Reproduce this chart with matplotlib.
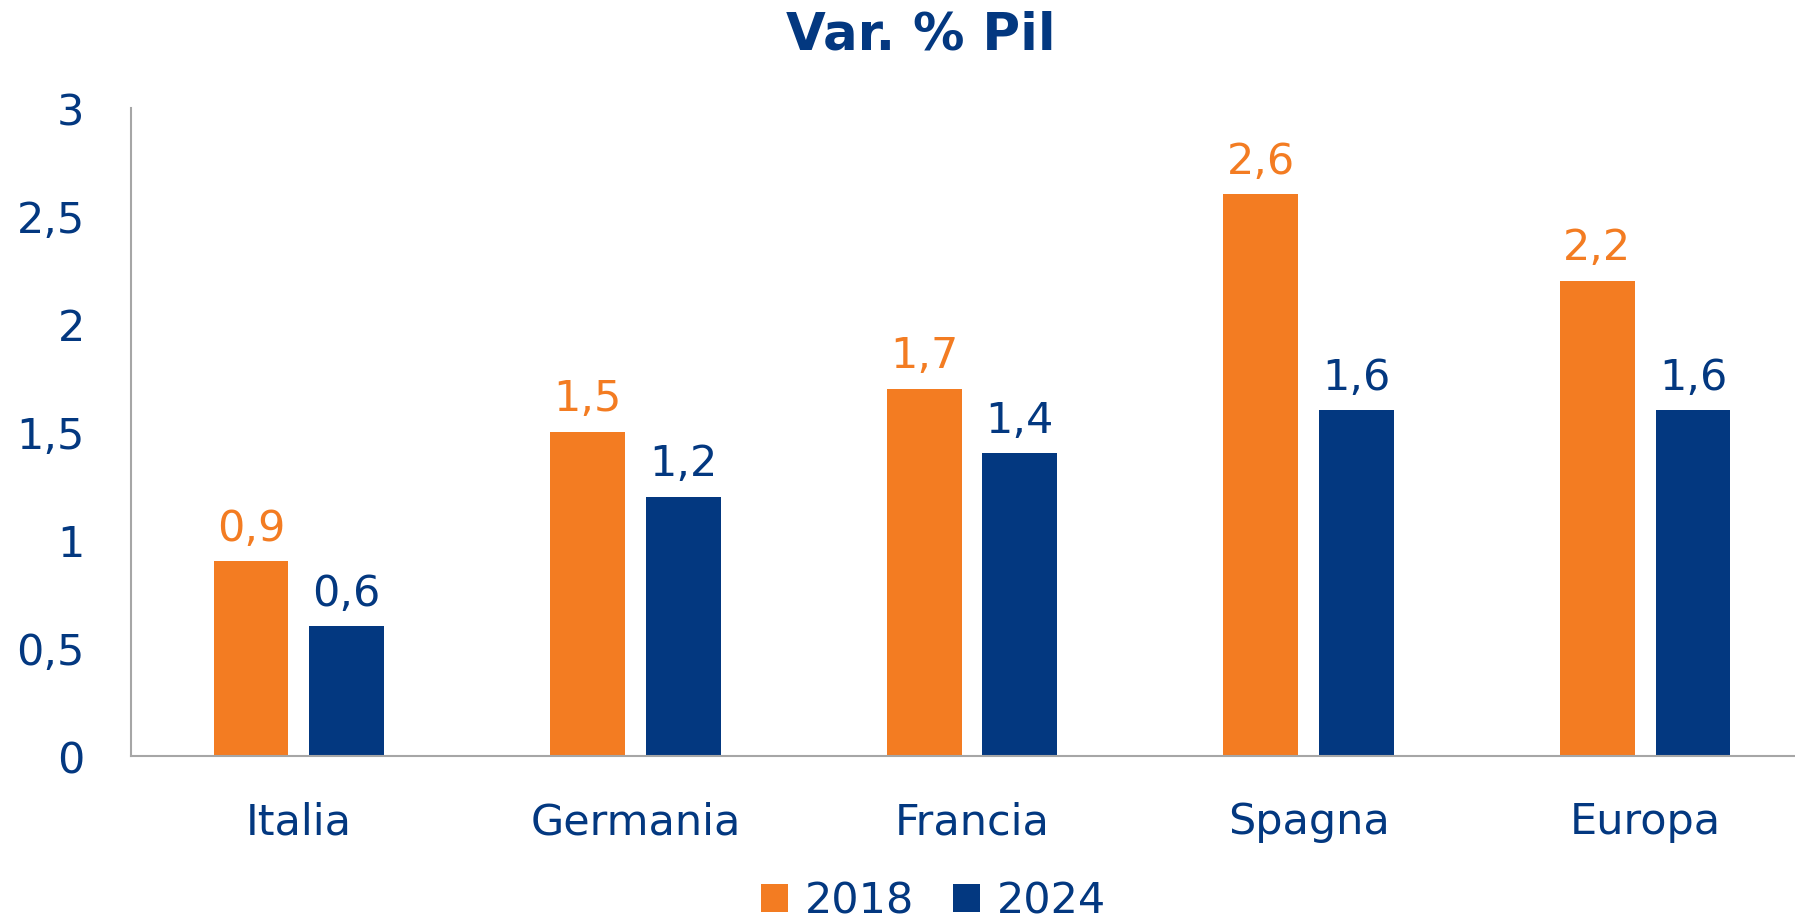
import matplotlib.pyplot as plt
import numpy as np

paesi = ['Italia', 'Germania', 'Francia', 'Spagna', 'Europa']
pil_2018 = [0.9, 1.5, 1.7, 2.6, 2.2]
pil_2024 = [0.6, 1.2, 1.4, 1.6, 1.6]
anni = ['2018', '2024']

arancio = '#F37C22'
blu = '#033880'

plt.rcParams['font.family'] = ['DejaVu Sans']

fig = plt.figure(figsize=(17.95, 9.2), dpi=100)
ax = fig.add_axes([130.5 / 1795, 1 - 756.7 / 920, 1683 / 1795, (756.7 - 108.8) / 920])

x = np.arange(len(paesi))
w = 0.222
b1 = ax.bar(x - 0.142, pil_2018, w, color=arancio, label=anni[0])
b2 = ax.bar(x + 0.142, pil_2024, w, color=blu, label=anni[1])

def fmt(v):
    return ('%g' % v).replace('.', ',')

for rect, v in zip(b1, pil_2018):
    ax.annotate(fmt(v), (rect.get_x() + rect.get_width() / 2, v), xytext=(0, 9),
                textcoords='offset points', ha='center', va='bottom', fontsize=31, color=arancio)
for rect, v in zip(b2, pil_2024):
    ax.annotate(fmt(v), (rect.get_x() + rect.get_width() / 2, v), xytext=(0, 9),
                textcoords='offset points', ha='center', va='bottom', fontsize=31, color=blu)

ax.set_xlim(-0.5, 4.5)
ax.set_ylim(0, 3)
ax.set_yticks([0, 0.5, 1, 1.5, 2, 2.5, 3])
ax.set_yticklabels([fmt(t) for t in [0, 0.5, 1, 1.5, 2, 2.5, 3]])
ax.set_xticks(x)
ax.set_xticklabels(paesi)
ax.tick_params(axis='y', length=0, pad=33, labelsize=31, labelcolor=blu)
ax.tick_params(axis='x', length=0, pad=32, labelsize=31, labelcolor=blu)

for s in ['top', 'right']:
    ax.spines[s].set_visible(False)
ax.spines['left'].set_color('#A6A6A6')
ax.spines['bottom'].set_color('#A6A6A6')
ax.spines['left'].set_linewidth(1.5)
ax.spines['bottom'].set_linewidth(1.5)

fig.text(921 / 1795, 1 - 36 / 920, 'Var. % Pil', ha='center', va='center',
         fontsize=37, fontweight='bold', color=blu)

leg = fig.legend(loc='center', bbox_to_anchor=(934 / 1795, 1 - 902 / 920), ncol=2, frameon=False,
                 fontsize=31, handlelength=0.62, handleheight=0.62, handletextpad=0.4,
                 columnspacing=0.9, borderpad=0)
for t in leg.get_texts():
    t.set_color(blu)

fig.savefig('out.png', dpi=100)
